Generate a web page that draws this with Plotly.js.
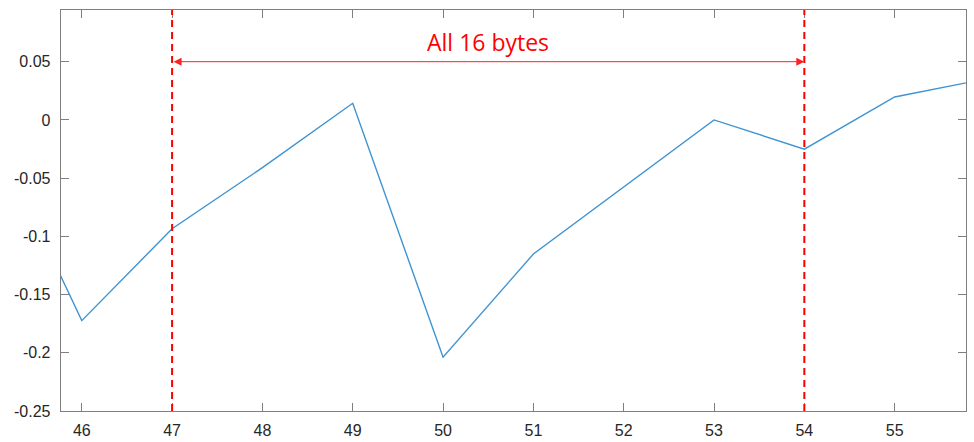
<!DOCTYPE html>
<html>
<head>
<meta charset="utf-8">
<script src="https://cdn.plot.ly/plotly-3.0.1.min.js"></script>
<style>html,body{margin:0;padding:0;background:#fff;}#chart{width:974px;height:442px;}</style>
</head>
<body>
<div id="chart"></div>
<script>
// Data
const xValues = [45, 46, 47, 48, 49, 50, 51, 52, 53, 54, 55, 56];
const yValues = [-0.008, -0.1724, -0.0935, -0.041, 0.0143, -0.2038, -0.1152, -0.0576, 0.0, -0.0251, 0.0197, 0.035];
const boundaryX = [47, 54];
const arrowY = 0.05;
const labelText = "All 16 bytes";
const labelY = 0.0666;
const xTicks = [46, 47, 48, 49, 50, 51, 52, 53, 54, 55];
const yTicks = [-0.25, -0.2, -0.15, -0.1, -0.05, 0, 0.05];
const yTickText = ["-0.25", "-0.2", "-0.15", "-0.1", "-0.05", "0", "0.05"];

const axisColor = "#7f7f7f";
const tickFont = {family: "Liberation Sans, Arial, sans-serif", size: 16, color: "#262626"};

const trace = {
  x: xValues, y: yValues, type: "scatter", mode: "lines",
  line: {color: "#3d93d3", width: 1.4},
  hoverinfo: "none"
};

const shapes = boundaryX.map(v => ({
  type: "line", xref: "x", yref: "paper", x0: v, x1: v, y0: 0, y1: 1,
  line: {color: "#ff0000", width: 2, dash: "7px,5px"}
}));

const annotations = [
  {
    x: boundaryX[1], y: arrowY, ax: boundaryX[0], ay: arrowY,
    xref: "x", yref: "y", axref: "x", ayref: "y",
    text: "", showarrow: true, arrowhead: 2, startarrowhead: 2,
    arrowside: "end+start", arrowsize: 1.6, startarrowsize: 1.6,
    arrowwidth: 1, arrowcolor: "#ff2020", standoff: 0, startstandoff: 0
  },
  {
    x: (boundaryX[0] + boundaryX[1]) / 2, y: labelY, xref: "x", yref: "y",
    text: labelText, showarrow: false, xanchor: "center", yanchor: "middle",
    font: {family: "Open Sans, sans-serif", size: 23, color: "#ff0000"}
  }
];

const layout = {
  width: 974, height: 442,
  margin: {l: 61, r: 8, t: 10, b: 31},
  paper_bgcolor: "#ffffff", plot_bgcolor: "#ffffff",
  showlegend: false,
  xaxis: {
    range: [45.77, 55.79], tickvals: xTicks, ticktext: xTicks.map(String),
    ticks: "inside", ticklen: 8, tickwidth: 1, tickcolor: axisColor,
    showline: true, linecolor: axisColor, linewidth: 1.3, mirror: "ticks",
    showgrid: false, zeroline: false, tickfont: tickFont, ticklabelstandoff: 4
  },
  yaxis: {
    range: [-0.25, 0.0944], tickvals: yTicks, ticktext: yTickText,
    ticks: "inside", ticklen: 8, tickwidth: 1, tickcolor: axisColor,
    showline: true, linecolor: axisColor, linewidth: 1.3, mirror: "ticks",
    showgrid: false, zeroline: false, tickfont: tickFont, ticklabelstandoff: 6
  },
  shapes: shapes,
  annotations: annotations
};

Plotly.newPlot("chart", [trace], layout, {staticPlot: true, displayModeBar: false});
</script>
</body>
</html>
